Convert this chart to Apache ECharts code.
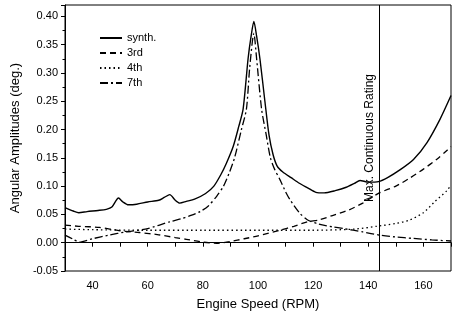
<!DOCTYPE html>
<html><head><meta charset="utf-8">
<script src="https://cdn.jsdelivr.net/npm/echarts@6/dist/echarts.min.js"></script>
<style>html,body{margin:0;padding:0;background:#fff}#c{width:454px;height:320px}</style>
</head><body><div id="c"></div>
<script>
const seriesNames = ['synth.', '3rd', '4th', '7th'];
const synthX = [30,33,35,38,42,45,47,49.4,51,53,56,60,64,66,68,70,71.6,74,77,81,84,86.5,88.5,91,93,94.6,96.4,97.5,98.5,99.5,100.7,102.5,104,105.5,107,109,112,115,118,121,124,128,132,135,137,140,143.7,147,151.6,156.4,161.3,166,170];
const synthY = [0.062,0.056,0.053,0.055,0.057,0.059,0.063,0.079,0.072,0.067,0.068,0.072,0.075,0.080,0.085,0.075,0.070,0.073,0.077,0.087,0.100,0.120,0.140,0.170,0.205,0.236,0.325,0.365,0.391,0.365,0.325,0.250,0.190,0.155,0.135,0.125,0.115,0.105,0.097,0.089,0.088,0.092,0.098,0.105,0.110,0.107,0.108,0.115,0.129,0.147,0.177,0.218,0.260];
const thirdX = [30,35,42.5,50,57,64,70,74,80,85,90,95,100,108,113,118,122,127,133,138,144,150,155,160,165,168.5,170];
const thirdY = [0.031,0.029,0.027,0.021,0.018,0.014,0.009,0.006,0.001,-0.001,0.002,0.007,0.012,0.022,0.029,0.037,0.040,0.048,0.058,0.070,0.088,0.100,0.114,0.130,0.148,0.163,0.170];
const fourthX = [30,40,60,80,100,120,135,143,150,155,160,164,168.5,170];
const fourthY = [0.024,0.023,0.022,0.022,0.022,0.022,0.024,0.029,0.034,0.040,0.053,0.072,0.092,0.102];
const seventhX = [30,33,35.2,40,46,52,60,68,72,75,79,82,85,87.5,89.7,91.5,94,95.8,97,98.5,99.5,101.3,103,104.5,106,108,110,111.6,115,118,122,127,131,138,144,150,156,163,170];
const seventhY = [0.0135,0.006,0.001,0.007,0.0135,0.019,0.025,0.037,0.042,0.047,0.055,0.065,0.082,0.100,0.125,0.150,0.200,0.236,0.310,0.370,0.325,0.236,0.190,0.150,0.130,0.111,0.090,0.076,0.053,0.040,0.033,0.028,0.025,0.019,0.0135,0.010,0.0077,0.005,0.003];
const ratingX = 144;
const ratingLabel = 'Max. Continuous Rating';
const xTitle = 'Engine Speed (RPM)';
const yTitle = 'Angular Amplitudes (deg.)';

const zip = (xs, ys) => xs.map((x, i) => [x, ys[i]]);
const font = 'Liberation Sans, Arial, sans-serif';
const dashes = ['solid', [6, 4], [1.5, 3], [8, 3, 2, 3]];
const widths = [1.4, 1.3, 1.3, 1.3];
const datas = [zip(synthX, synthY), zip(thirdX, thirdY), zip(fourthX, fourthY), zip(seventhX, seventhY)];

const series = datas.map((d, i) => ({
  name: seriesNames[i], type: 'line', data: d, symbol: 'none', smooth: 0.25,
  lineStyle: { color: '#000', width: widths[i], type: dashes[i] },
  itemStyle: { color: '#000' },
  z: 3
}));
series[0].markLine = {
  silent: true, symbol: 'none', animation: false,
  lineStyle: { color: '#000', width: 1, type: 'solid' },
  label: { show: true, formatter: ratingLabel, position: 'insideMiddleTop', color: '#000', fontFamily: font, fontSize: 12, distance: 4 },
  data: [{ xAxis: ratingX }]
};

const chart = echarts.init(document.getElementById('c'));
chart.setOption({
  animation: false,
  backgroundColor: '#fff',
  grid: { left: 65, right: 3, top: 5, bottom: 49, show: true, borderColor: '#000', borderWidth: 1 },
  legend: {
    orient: 'vertical', left: 94, top: 27, itemWidth: 22, itemHeight: 8, itemGap: 3,
    data: seriesNames,
    itemStyle: { opacity: 0 },
    textStyle: { color: '#000', fontFamily: font, fontSize: 11, lineHeight: 12 }
  },
  xAxis: {
    type: 'value', min: 30, max: 170, interval: 10,
    axisLine: { show: true, lineStyle: { color: '#000' } },
    axisTick: { show: true, length: 4, lineStyle: { color: '#000' } },
    splitLine: { show: false },
    axisLabel: { color: '#000', fontFamily: font, fontSize: 11, margin: 9,
      formatter: v => (v % 20 === 0 && v > 30 && v < 170) ? String(v) : '' },
    name: xTitle, nameLocation: 'middle', nameGap: 27,
    nameTextStyle: { color: '#000', fontFamily: font, fontSize: 13 }
  },
  yAxis: {
    type: 'value', min: -0.05, max: 0.42, interval: 0.05,
    axisLine: { show: true, lineStyle: { color: '#000' } },
    axisTick: { show: true, length: 4, lineStyle: { color: '#000' } },
    minorTick: { show: true, splitNumber: 2, length: 2.5, lineStyle: { color: '#000' } },
    splitLine: { show: false },
    axisLabel: { color: '#000', fontFamily: font, fontSize: 11, margin: 7, showMaxLabel: false,
      formatter: v => v > 0.41 ? '' : v.toFixed(2) },
    name: yTitle, nameLocation: 'middle', nameGap: 40,
    nameTextStyle: { color: '#000', fontFamily: font, fontSize: 13 }
  },
  series: series
});
</script></body></html>
